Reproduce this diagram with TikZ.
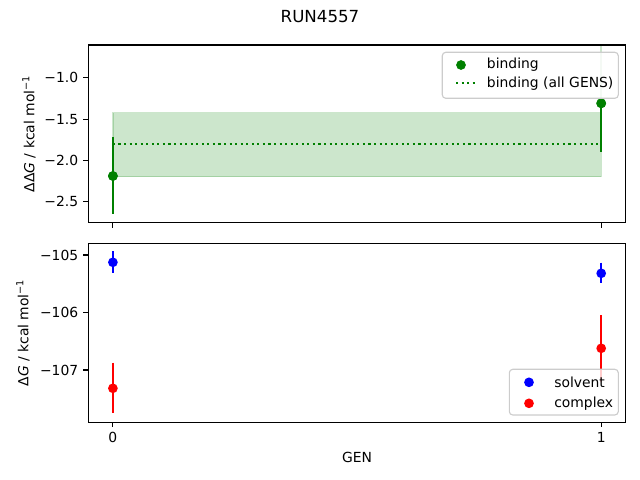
\documentclass[tikz,border=0pt]{standalone}
\usepackage{fontspec}
\setmainfont{DejaVu Sans}
\usetikzlibrary{positioning}

\definecolor{mplgreen}{RGB}{0,128,0}
\definecolor{mplblue}{RGB}{0,0,255}
\definecolor{mplred}{RGB}{255,0,0}
\definecolor{legendedge}{gray}{0.8}

\tikzset{
  spine/.style={draw=black, line width=0.8pt},
  tickmark/.style={line width=0.8pt},
  ticklabel/.style={inner sep=0pt, font=\fontsize{10}{12}\selectfont},
  errbar/.style={line width=1.5pt, #1},
  dot/.style={circle, fill=#1, inner sep=0pt, minimum size=7pt},
  legendbox/.style={draw=legendedge, fill=white, fill opacity=0.8, rounded corners=2.5pt, line width=0.8pt},
  legendtext/.style={inner sep=0pt, anchor=west, font=\fontsize{10}{12}\selectfont},
}

\begin{document}
\begin{tikzpicture}[x=0.72pt, y=-0.72pt]
  \useasboundingbox (0,0) rectangle (640,480);

  % title
  \node[font=\fontsize{12}{14}\selectfont] (title) at (320,17) {RUN4557};

  % top panel: binding
  \fill[mplgreen, fill opacity=0.2] (112.9,112.7) rectangle (601.2,176.7);
  \draw[mplgreen, opacity=0.2, line width=1pt] (112.9,112.7) rectangle (601.2,176.7);
  \coordinate (meanleft) at (112.9,144);
  \coordinate (meanright) at (601.2,144);
  \draw[mplgreen, line width=1.5pt, dash pattern=on 1.5pt off 2.5pt] (meanleft) -- (meanright);

  \node[dot=mplgreen] (bind0) at (112.9,176) {};
  \coordinate (bind0hi) at (112.9,137.3);
  \coordinate (bind0lo) at (112.9,214.3);
  \draw[errbar=mplgreen] (bind0hi) -- (bind0lo);
  \node[dot=mplgreen] at (bind0) {};

  \node[dot=mplgreen] (bind1) at (601.2,103.3) {};
  \coordinate (bind1hi) at (601.2,45);
  \coordinate (bind1lo) at (601.2,151.7);
  \draw[errbar=mplgreen!20] (bind1hi) -- (bind1.center);
  \draw[errbar=mplgreen] (bind1.center) -- (bind1lo);
  \node[dot=mplgreen] at (bind1) {};

  \draw[legendbox] (442.3,52.3) rectangle (618.3,98.3);
  \node[dot=mplgreen] (legbind) at (461,65) {};
  \node[legendtext] (legbindtext) at (486.7,65) {binding};
  \coordinate (legmeanleft) at (456,83.3);
  \coordinate (legmeanright) at (475,83.3);
  \draw[mplgreen, line width=1.5pt, dash pattern=on 1.5pt off 2.5pt] (legmeanleft) -- (legmeanright);
  \node[legendtext] (legmeantext) at (486.7,83.3) {binding (all GENS)};

  \draw[spine] (88.3,45) rectangle (625.7,222.7);
  \foreach \val/\py in {−1.0/77.7, −1.5/119.1, −2.0/160.4, −2.5/201.8}{
    \draw[tickmark] (88.3,\py) -- (83.4,\py);
    \node[ticklabel, anchor=east] at (78.5,\py) {\val};
  }
  \foreach \px in {112.9, 601.2}{
    \draw[tickmark] (\px,222.7) -- (\px,227.6);
  }
  \node[rotate=90, font=\fontsize{10}{12}\selectfont] (ddglabel) at (29,133.9)
    {ΔΔ\textit{G} / kcal mol\textsuperscript{−1}};

  % bottom panel: solvent and complex
  \coordinate (solv0hi) at (112.9,251);
  \coordinate (solv0lo) at (112.9,272.7);
  \draw[errbar=mplblue] (solv0hi) -- (solv0lo);
  \node[dot=mplblue] (solv0) at (112.9,262.3) {};

  \coordinate (solv1hi) at (601.2,262.7);
  \coordinate (solv1lo) at (601.2,282.7);
  \draw[errbar=mplblue] (solv1hi) -- (solv1lo);
  \node[dot=mplblue] (solv1) at (601.2,273.3) {};

  \coordinate (cplx0hi) at (112.9,362.7);
  \coordinate (cplx0lo) at (112.9,413.3);
  \draw[errbar=mplred] (cplx0hi) -- (cplx0lo);
  \node[dot=mplred] (cplx0) at (112.9,388.3) {};

  \coordinate (cplx1hi) at (601.2,315);
  \coordinate (cplx1lo) at (601.2,381.5);
  \draw[errbar=mplred] (cplx1hi) -- (cplx1lo);
  \node[dot=mplred] (cplx1) at (601.2,348.3) {};

  \draw[legendbox] (509.3,369.3) rectangle (618.3,415);
  \node[dot=mplblue] (legsolv) at (529,382.3) {};
  \node[legendtext] (legsolvtext) at (554,382.3) {solvent};
  \node[dot=mplred] (legcplx) at (529,403.3) {};
  \node[legendtext] (legcplxtext) at (554,403.3) {complex};

  \draw[spine] (88.3,243.3) rectangle (625.7,422.3);
  \foreach \val/\py in {−105/255, −106/312.5, −107/370}{
    \draw[tickmark] (88.3,\py) -- (83.4,\py);
    \node[ticklabel, anchor=east] at (78.5,\py) {\val};
  }
  \foreach \val/\px in {0/112.9, 1/601.2}{
    \draw[tickmark] (\px,422.3) -- (\px,427.2);
    \node[ticklabel, anchor=north] at (\px,432) {\val};
  }
  \node[rotate=90, font=\fontsize{10}{12}\selectfont] (dglabel) at (23,332.8)
    {Δ\textit{G} / kcal mol\textsuperscript{−1}};
  \node[font=\fontsize{10}{12}\selectfont] (genlabel) at (357,457) {GEN};
\end{tikzpicture}
\end{document}
